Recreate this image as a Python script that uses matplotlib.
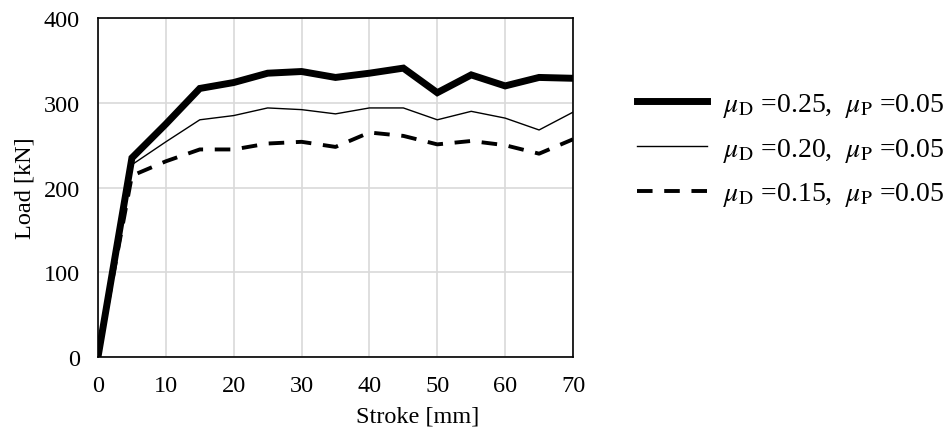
import matplotlib
matplotlib.use("Agg")
import matplotlib.pyplot as plt

plt.rcParams['font.family'] = ['Liberation Serif']
plt.rcParams['mathtext.fontset'] = 'stix'

stroke = [0, 5, 10, 15, 20, 25, 30, 35, 40, 45, 50, 55, 60, 65, 70]
load_025 = [0, 235, 275, 317, 324, 335, 337, 330, 335, 341, 312, 333, 320, 330, 329]
load_020 = [0, 227, 254, 280, 285, 294, 292, 287, 294, 294, 280, 290, 282, 268, 289]
load_015 = [0, 214, 231, 245, 245, 252, 254, 248, 265, 261, 251, 255, 250, 240, 257]

labels = [r"$\mu_{\mathrm{D}}$ =0.25,  $\mu_{\mathrm{P}}$ =0.05",
          r"$\mu_{\mathrm{D}}$ =0.20,  $\mu_{\mathrm{P}}$ =0.05",
          r"$\mu_{\mathrm{D}}$ =0.15,  $\mu_{\mathrm{P}}$ =0.05"]

fig = plt.figure(figsize=(9.44, 4.35), dpi=100)
ax = fig.add_axes([0.1038, 0.177, 0.5032, 0.779])

ax.plot(stroke, load_025, color='black', lw=5, solid_joinstyle='miter', label=labels[0])
ax.plot(stroke, load_020, color='black', lw=1.0, label=labels[1])
ax.plot(stroke, load_015, color='black', lw=2.8, ls=(0, (4, 3)), label=labels[2])

ax.set_xlim(0, 70)
ax.set_ylim(0, 400)
ax.set_xticks(range(0, 71, 10))
ax.set_yticks(range(0, 401, 100))
ax.grid(True, color='#d9d9d9', lw=1.2)
ax.set_axisbelow(True)
ax.tick_params(length=0, labelsize=17.5)
ax.tick_params(axis='x', pad=13)
ax.tick_params(axis='y', pad=13)
for s in ax.spines.values():
    s.set_linewidth(1.2)

# x title sits off-centre, as in the source chart
ax.set_xlabel("Stroke [mm]", fontsize=17.5)
ax.xaxis.set_label_coords(0.672, -0.143)
ax.set_ylabel("Load [kN]", fontsize=17.5, labelpad=6)

ax.legend(loc='center left', bbox_to_anchor=(1.135, 0.612), frameon=False,
          borderaxespad=0, borderpad=0,
          fontsize=20, handlelength=2.5, handletextpad=0.6, labelspacing=0.6)

fig.savefig("out.png", dpi=100)
